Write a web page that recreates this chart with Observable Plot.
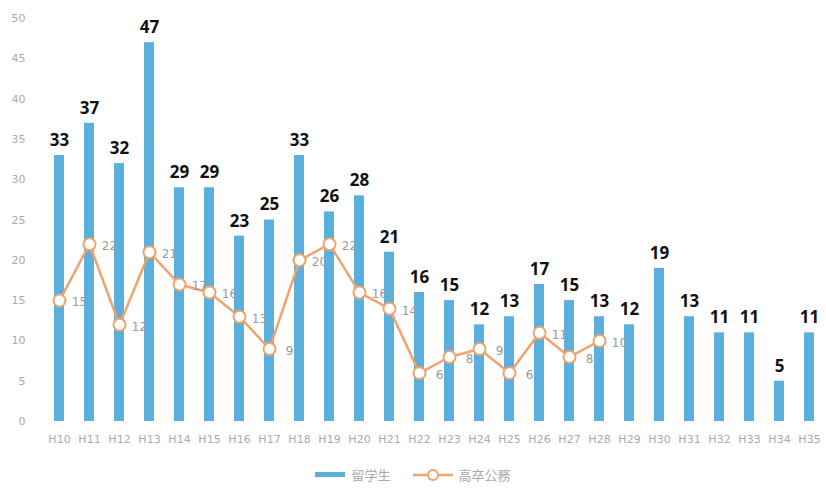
<!DOCTYPE html>
<html>
<head>
<meta charset="utf-8">
<script src="https://cdn.jsdelivr.net/npm/d3@7"></script>
<script src="https://cdn.jsdelivr.net/npm/@observablehq/plot@0.6"></script>
<style>
  html, body { margin: 0; padding: 0; background: #fff; }
  #chart { width: 826px; }
  .legend { display: flex; justify-content: center; align-items: center; gap: 22px; font-family: "Noto Sans CJK JP", sans-serif; font-size: 13px; color: #aaa; height: 29px; margin-top: 0; }
  .legend span.item { display: flex; align-items: center; gap: 6px; }
  .sw-bar { display: inline-block; width: 30px; height: 5px; background: #5aafdc; }
</style>
</head>
<body>
<div id="chart"></div>
<script>
const categories = ["H10","H11","H12","H13","H14","H15","H16","H17","H18","H19","H20","H21","H22","H23","H24","H25","H26","H27","H28","H29","H30","H31","H32","H33","H34","H35"];
const barValues = [33,37,32,47,29,29,23,25,33,26,28,21,16,15,12,13,17,15,13,12,19,13,11,11,5,11];
const lineValues = [15,22,12,21,17,16,13,9,20,22,16,14,6,8,9,6,11,8,10];
const yTicks = [0,5,10,15,20,25,30,35,40,45,50];
const barName = "留学生";
const lineName = "高卒公務";

const bars = categories.map((c, i) => ({cat: c, value: barValues[i]}));
const pts = lineValues.map((v, i) => ({cat: categories[i], value: v}));

const barColor = "#5aafdc";
const lineColor = "#f0a36c";

const plot = Plot.plot({
  width: 826,
  height: 460,
  marginLeft: 43,
  marginRight: 0,
  marginTop: 18,
  marginBottom: 39,
  style: {fontFamily: "DejaVu Sans, sans-serif", background: "#fff"},
  x: {domain: categories, paddingInner: 0.66, paddingOuter: 0.33, align: 0.5, label: null, tickSize: 0, tickPadding: 14},
  y: {domain: [0, 50], ticks: yTicks, label: null, tickSize: 0, tickPadding: 18},
  marks: [
    Plot.barY(bars, {x: "cat", y: "value", fill: barColor}),
    Plot.text(bars, {x: "cat", y: "value", text: d => String(d.value), dy: -15, fontSize: 17, fontWeight: "bold", fontFamily: "Open Sans, sans-serif", fill: "#111"}),
    Plot.line(pts, {x: "cat", y: "value", stroke: lineColor, strokeWidth: 2.5}),
    Plot.dot(pts, {x: "cat", y: "value", r: 6, fill: "#fff", stroke: lineColor, strokeWidth: 2}),
    Plot.text(pts, {x: "cat", y: "value", text: d => String(d.value), dx: 20, dy: 2, fontSize: 12, fill: "#999"}),
    Plot.axisX({tickSize: 0, tickPadding: 14, fontSize: 11, color: "#aaa", label: null}),
    Plot.axisY({ticks: yTicks, tickSize: 0, tickPadding: 18, fontSize: 11, color: "#aaa", label: null})
  ]
});
document.getElementById("chart").appendChild(plot);

const legend = document.createElement("div");
legend.className = "legend";
legend.innerHTML = `<span class="item"><span class="sw-bar"></span>${barName}</span>
<span class="item"><svg width="40" height="14"><line x1="0" y1="7" x2="40" y2="7" stroke="${lineColor}" stroke-width="2.5"/><circle cx="20" cy="7" r="5" fill="#fff" stroke="${lineColor}" stroke-width="2"/></svg>${lineName}</span>`;
document.getElementById("chart").appendChild(legend);
</script>
</body>
</html>
